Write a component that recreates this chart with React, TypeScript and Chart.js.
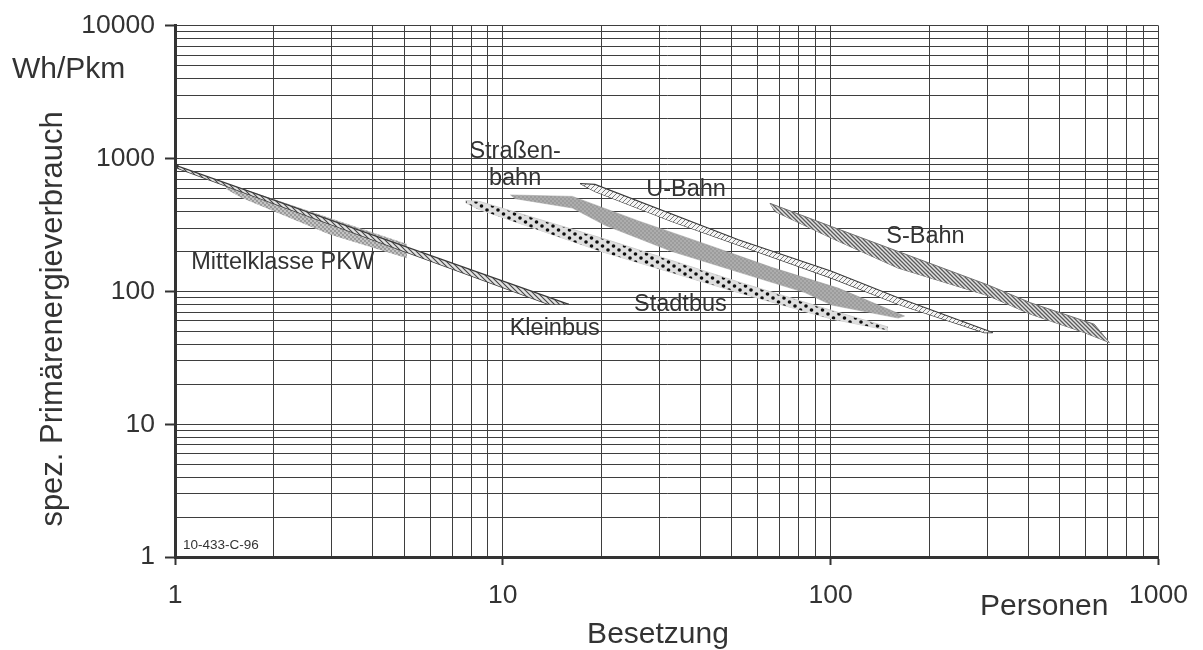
import React, { useEffect, useRef } from 'react';
import { Chart, registerables } from 'chart.js';

Chart.register(...registerables);

// ---------- axis data ----------
const xGridValues = [1, 2, 3, 4, 5, 6, 7, 8, 9, 10, 20, 30, 40, 50, 60, 70, 80, 90, 100, 200, 300, 400, 500, 600, 700, 800, 900, 1000];
const yGridValues = [1, 2, 3, 4, 5, 6, 7, 8, 9, 10, 20, 30, 40, 50, 60, 70, 80, 90, 100, 200, 300, 400, 500, 600, 700, 800, 900, 1000, 2000, 3000, 4000, 5000, 6000, 7000, 8000, 9000, 10000];
const xLabelValues = [1, 10, 100, 1000];
const xTickLabels = ['1', '10', '100', '1000'];
const yLabelValues = [1, 10, 100, 1000, 10000];
const yTickLabels = ['1', '10', '100', '1000', '10000'];

const xTitle = 'Besetzung';
const xUnit = 'Personen';
const yTitle = 'spez. Primärenergieverbrauch';
const yUnit = 'Wh/Pkm';
const chartCode = '10-433-C-96';

// ---------- band data: [Besetzung, Wh/Pkm] ----------
const pkwPoint = [[1, 880]];
const kleinbusUpper = [[1, 894], [15.9, 80]];
const kleinbusLower = [[1, 860], [13.8, 80], [15.9, 80]];
const pkwUpper = [[1.43, 655], [5.1, 228]];
const pkwLower = [[1.43, 590], [1.6, 505], [2.95, 270], [5.1, 178]];
const stadtbusUpper = [[7.7, 483], [8.45, 478], [20.5, 248], [52.3, 118], [100.6, 72], [149.6, 54]];
const stadtbusLower = [[7.7, 465], [8.45, 415], [20.5, 196], [52.3, 98], [100.6, 62], [149.6, 51]];
const strassenbahnUpper = [[10.55, 533], [16.3, 520], [25.9, 340], [41.4, 228], [66, 152], [105.4, 106], [168, 65.3]];
const strassenbahnLower = [[10.55, 533], [10.9, 500], [16.3, 425], [20.5, 315], [32.8, 200], [52.3, 140], [83.5, 98], [100.6, 79], [160.6, 63], [168, 65.3]];
const ubahnUpper = [[17.2, 651], [19.1, 640], [52.3, 245], [100.6, 142], [160.6, 89.6], [312, 49]];
const ubahnLower = [[17.2, 651], [19.1, 565], [32.8, 336], [100.6, 126], [160.6, 80], [294, 49], [312, 49]];
const sbahnUpper = [[65.3, 461], [100.6, 308], [160.6, 200], [301.6, 112], [408, 82], [637, 56.6], [708, 41.2]];
const sbahnLower = [[65.3, 461], [67.6, 400], [100.6, 252], [160.6, 150], [301.6, 93], [408, 67.3], [594, 49], [708, 41.2]];

// ---------- in-chart labels (anchored in data space) ----------
const chartLabels = [
  { text: 'Mittelklasse PKW', x: 2.13, y: 164 },
  { text: 'Kleinbus', x: 14.4, y: 52.6 },
  { text: 'Stadtbus', x: 34.8, y: 80 },
  { text: 'U-Bahn', x: 36.2, y: 581 },
  { text: 'Straßen-', x: 10.9, y: 1125 },
  { text: 'bahn', x: 10.9, y: 710 },
  { text: 'S-Bahn', x: 194.6, y: 260 },
];

const FONT = '"Liberation Sans", Arial, sans-serif';
const TEXT = '#333333';

const toXY = (arr: number[][]) => arr.map(([x, y]) => ({ x, y }));

function makeTile(w: number, h: number, draw: (g: CanvasRenderingContext2D) => void) {
  const c = document.createElement('canvas');
  c.width = w;
  c.height = h;
  const g = c.getContext('2d') as CanvasRenderingContext2D;
  draw(g);
  return c;
}

function hatchTile(bg: string, fg: string, size: number, lw: number, forward: boolean) {
  return makeTile(size, size, (g) => {
    g.fillStyle = bg;
    g.fillRect(0, 0, size, size);
    g.strokeStyle = fg;
    g.lineWidth = lw;
    g.beginPath();
    if (forward) {
      g.moveTo(-1, size + 1); g.lineTo(size + 1, -1);
      g.moveTo(-size / 2 - 1, size / 2 + 1); g.lineTo(size / 2 + 1, -size / 2 - 1);
      g.moveTo(size / 2 - 1, size * 1.5 + 1); g.lineTo(size * 1.5 + 1, size / 2 - 1);
    } else {
      g.moveTo(-1, -1); g.lineTo(size + 1, size + 1);
      g.moveTo(-size / 2 - 1, size / 2 - 1); g.lineTo(size / 2 + 1, size * 1.5 + 1);
      g.moveTo(size / 2 - 1, -size / 2 - 1); g.lineTo(size * 1.5 + 1, size / 2 + 1);
    }
    g.stroke();
  });
}

function dotTile(bg: string, fg: string, w: number, h: number, r: number, pts: number[][]) {
  return makeTile(w, h, (g) => {
    g.fillStyle = bg;
    g.fillRect(0, 0, w, h);
    g.fillStyle = fg;
    for (const [px, py] of pts) {
      g.beginPath();
      g.arc(px, py, r, 0, Math.PI * 2);
      g.fill();
    }
  });
}

const textPlugin = {
  id: 'chartTexts',
  afterDraw(chart: any) {
    const { ctx, chartArea, scales } = chart;
    const xs = scales.x;
    const ys = scales.y;
    ctx.save();
    ctx.fillStyle = TEXT;
    ctx.font = `23.5px ${FONT}`;
    ctx.textAlign = 'center';
    ctx.textBaseline = 'middle';
    for (const l of chartLabels) {
      ctx.fillText(l.text, xs.getPixelForValue(l.x), ys.getPixelForValue(l.y));
    }
    ctx.font = `13.5px ${FONT}`;
    ctx.textAlign = 'left';
    ctx.fillText(chartCode, chartArea.left + 8, chartArea.bottom - 12);

    ctx.font = `30px ${FONT}`;
    ctx.textBaseline = 'alphabetic';
    ctx.textAlign = 'left';
    ctx.fillText(yUnit, 12, 78);
    ctx.textAlign = 'center';
    ctx.fillText(xTitle, 658, 643);
    ctx.textAlign = 'left';
    ctx.fillText(xUnit, 980, 615);

    ctx.translate(62, 319);
    ctx.rotate(-Math.PI / 2);
    ctx.font = `31px ${FONT}`;
    ctx.textAlign = 'center';
    ctx.fillText(yTitle, 0, 0);
    ctx.restore();
  },
};

export default function App() {
  const ref = useRef<HTMLCanvasElement | null>(null);

  useEffect(() => {
    const canvas = ref.current;
    if (!canvas) return;
    const ctx = canvas.getContext('2d') as CanvasRenderingContext2D;
    const pat = (tile: HTMLCanvasElement) => ctx.createPattern(tile, 'repeat') as CanvasPattern;

    const kleinbusFill = pat(hatchTile('#e2e2e2', '#444444', 5, 1.1, false));
    const pkwFill = pat(dotTile('#c4c4c4', '#858585', 4, 4, 0.9, [[1, 1], [3, 3]]));
    const stadtbusFill = pat(dotTile('#dedede', '#0e0e0e', 11, 8, 1.8, [[3, 2], [8.5, 6]]));
    const strassenbahnFill = pat(dotTile('#9c9c9c', '#c4c4c4', 4, 4, 0.8, [[1, 1], [3, 3]]));
    const ubahnFill = pat(hatchTile('#f4f4f4', '#7a7a7a', 5, 1, true));
    const sbahnFill = pat(hatchTile('#e2e2e2', '#5a5a5a', 4, 1.3, false));

    const band = (upper: number[][], lower: number[][], fill: any, border: string, bw: number) => [
      { data: toXY(upper), fill: '+1', backgroundColor: fill, borderColor: border, borderWidth: bw, pointRadius: 0, tension: 0 },
      { data: toXY(lower), fill: false, backgroundColor: fill, borderColor: border, borderWidth: bw, pointRadius: 0, tension: 0 },
    ];

    const datasets: any[] = [
      { data: toXY(pkwPoint), showLine: false, pointRadius: 3.5, pointStyle: 'rectRot', backgroundColor: '#333', borderColor: '#333', fill: false },
      ...band(kleinbusUpper, kleinbusLower, kleinbusFill, '#3a3a3a', 1.2),
      ...band(pkwUpper, pkwLower, pkwFill, 'rgba(0,0,0,0)', 0),
      ...band(ubahnUpper, ubahnLower, ubahnFill, '#3a3a3a', 1.1),
      ...band(stadtbusUpper, stadtbusLower, stadtbusFill, '#cfcfcf', 1),
      ...band(strassenbahnUpper, strassenbahnLower, strassenbahnFill, 'rgba(150,150,150,0.5)', 1),
      ...band(sbahnUpper, sbahnLower, sbahnFill, '#707070', 1),
    ];

    const gridColor = '#3e3e3e';
    const tickFont = { family: FONT, size: 26.5 };

    const chart = new Chart(ctx, {
      type: 'line',
      data: { datasets },
      options: {
        animation: false,
        responsive: false,
        events: [],
        layout: { padding: { left: 0, right: 42, top: 23, bottom: 0 } },
        plugins: {
          legend: { display: false },
          tooltip: { enabled: false },
        },
        scales: {
          x: {
            type: 'logarithmic',
            min: 1,
            max: 1000,
            afterBuildTicks: (s: any) => { s.ticks = xGridValues.map((v) => ({ value: v })); },
            afterFit: (s: any) => { s.height = 93; },
            ticks: {
              autoSkip: false,
              maxRotation: 0,
              padding: 15,
              color: TEXT,
              font: tickFont,
              callback: (v: any) => { const i = xLabelValues.indexOf(Number(v)); return i >= 0 ? xTickLabels[i] : ''; },
            },
            grid: {
              color: gridColor,
              lineWidth: 1,
              tickLength: 8,
              tickWidth: 2,
              tickColor: (c: any) => (c.tick && xLabelValues.includes(c.tick.value) ? '#333' : 'rgba(0,0,0,0)'),
            },
            border: { color: '#333', width: 3 },
          },
          y: {
            type: 'logarithmic',
            min: 1,
            max: 10000,
            afterBuildTicks: (s: any) => { s.ticks = yGridValues.map((v) => ({ value: v })); },
            afterFit: (s: any) => { s.width = 175; },
            ticks: {
              autoSkip: false,
              padding: 10,
              color: TEXT,
              font: tickFont,
              callback: (v: any) => { const i = yLabelValues.indexOf(Number(v)); return i >= 0 ? yTickLabels[i] : ''; },
            },
            grid: {
              color: gridColor,
              lineWidth: 1,
              tickLength: 10,
              tickWidth: 2,
              tickColor: (c: any) => (c.tick && yLabelValues.includes(c.tick.value) ? '#333' : 'rgba(0,0,0,0)'),
            },
            border: { color: '#333', width: 3 },
          },
        },
      } as any,
      plugins: [textPlugin],
    });

    return () => chart.destroy();
  }, []);

  return (
    <div style={{ position: 'absolute', left: 0, top: 0, width: 1203, height: 650, background: '#fff' }}>
      <canvas ref={ref} width={1203} height={650} />
    </div>
  );
}
